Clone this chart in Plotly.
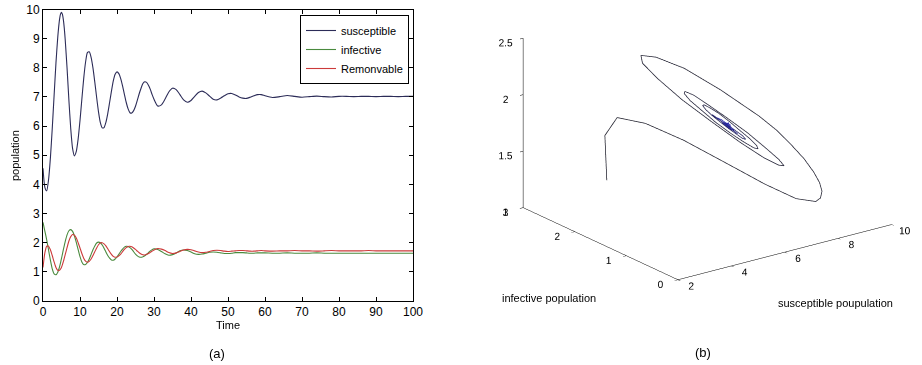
import plotly.graph_objects as go

# sampling times
time = sorted([i * 0.5 for i in range(61)] + [4.25, 4.75, 5.25, 5.75]) \
    + list(range(31, 61)) + list(range(62, 101, 2))

susceptible = [
    4.55, 3.9, 3.78, 4.16, 4.91, 5.92, 7.05, 8.16, 9.07, 9.42, 9.69, 9.85,
    9.9, 9.83, 9.65, 9.36, 8.97, 7.99, 6.89, 5.91, 5.23, 4.98, 5.13, 5.56,
    6.19, 6.92, 7.63, 8.19, 8.52, 8.55, 8.36, 8.0, 7.51, 6.98,
    6.49, 6.12, 5.94, 5.95, 6.13, 6.43, 6.81, 7.2, 7.55, 7.78,
    7.86, 7.8, 7.63, 7.38, 7.09, 6.81, 6.59, 6.46, 6.45, 6.53,
    6.68, 6.89, 7.11, 7.3, 7.46, 7.52, 7.5, 7.4, 7.26, 7.08,
    6.92,
    6.69, 6.73, 6.93, 7.17, 7.3, 7.25, 7.08, 6.9, 6.82, 6.88,
    7.02, 7.15, 7.2, 7.14, 7.03, 6.92, 6.9, 6.96, 7.04, 7.11,
    7.12, 7.07, 7.0, 6.96, 6.95, 6.99, 7.04, 7.08, 7.08, 7.04,
    6.98, 7.01, 7.05, 7.02, 6.99, 7.01, 7.03, 7.01, 7.0, 7.02,
    7.02, 7.01, 7.02, 7.02, 7.01, 7.02, 7.02, 7.01, 7.02, 7.02,
]

infective = [
    2.7, 2.4, 2.1, 1.75, 1.4, 1.1, 0.93, 0.9, 0.99, 1.08, 1.19, 1.32,
    1.46, 1.61, 1.76, 1.9, 2.04, 2.27, 2.41, 2.45, 2.39, 2.23, 2.01, 1.76,
    1.52, 1.34, 1.25, 1.25, 1.32, 1.44, 1.6, 1.76, 1.89, 1.99,
    2.02, 2.0, 1.92, 1.81, 1.68, 1.56, 1.47, 1.41, 1.4, 1.44,
    1.51, 1.6, 1.7, 1.78, 1.85, 1.88, 1.87, 1.83, 1.77, 1.69,
    1.61, 1.55, 1.51, 1.5, 1.52, 1.55, 1.6, 1.66, 1.72, 1.76,
    1.79,
    1.77, 1.7, 1.62, 1.57, 1.59, 1.65, 1.72, 1.75, 1.73, 1.68,
    1.62, 1.6, 1.61, 1.64, 1.67, 1.68, 1.67, 1.65, 1.63, 1.63,
    1.64, 1.66, 1.66, 1.66, 1.65, 1.64, 1.64, 1.65, 1.65, 1.65,
    1.64, 1.64, 1.65, 1.64, 1.64, 1.64, 1.65, 1.64, 1.64, 1.64,
    1.64, 1.64, 1.64, 1.64, 1.64, 1.64, 1.64, 1.64, 1.64, 1.64,
]

removable = [
    1.15, 1.65, 1.88, 1.88, 1.76, 1.56, 1.34, 1.15, 1.05, 1.04, 1.06, 1.1,
    1.16, 1.25, 1.35, 1.47, 1.59, 1.83, 2.06, 2.21, 2.28, 2.26, 2.16, 2.0,
    1.82, 1.63, 1.47, 1.37, 1.33, 1.36, 1.44, 1.56, 1.69, 1.82,
    1.93, 1.99, 2.0, 1.96, 1.89, 1.79, 1.69, 1.6, 1.53, 1.5,
    1.51, 1.55, 1.61, 1.69, 1.77, 1.83, 1.87, 1.88, 1.86, 1.82,
    1.77, 1.71, 1.655, 1.61, 1.585, 1.58, 1.6, 1.63, 1.67, 1.71,
    1.75,
    1.8, 1.78, 1.73, 1.66, 1.63, 1.65, 1.7, 1.75, 1.77, 1.76,
    1.72, 1.68, 1.66, 1.67, 1.7, 1.73, 1.74, 1.73, 1.71, 1.7,
    1.71, 1.72, 1.73, 1.73, 1.72, 1.71, 1.71, 1.72, 1.73, 1.72,
    1.71, 1.72, 1.72, 1.73, 1.72, 1.72, 1.71, 1.72, 1.73, 1.72,
    1.72, 1.72, 1.72, 1.73, 1.72, 1.72, 1.72, 1.72, 1.72, 1.72,
]

series_names = ["susceptible", "infective", "Remonvable"]
series_colors = ["#2c2c58", "#4a8a3e", "#cc3a3a"]

x_ticks = list(range(0, 101, 10))
y_ticks = list(range(0, 11))
s_ticks = [2, 4, 6, 8, 10]
i_ticks = [0, 1, 2, 3]
r_ticks = [1, 1.5, 2, 2.5]

FONT = "Liberation Sans, Arial, sans-serif"

fig = go.Figure()
for name, vals, col in zip(series_names, [susceptible, infective, removable], series_colors):
    fig.add_trace(go.Scatter(
        x=time, y=vals, name=name, mode="lines",
        line=dict(color=col, width=1.1, shape="spline", smoothing=0.6),
        xaxis="x", yaxis="y",
    ))

fig.add_trace(go.Scatter3d(
    x=susceptible, y=infective, z=removable, mode="lines", showlegend=False,
    line=dict(color=time, colorscale=[[0, "#1e1e2a"], [0.22, "#24243e"],
                                      [0.4, "#2c2ca8"], [1, "#3030d0"]], width=1.5),
    scene="scene",
))

ax3 = dict(showgrid=False, showbackground=False, showline=True, linecolor="black",
           linewidth=1, ticks="outside", ticklen=4, tickcolor="black", tickangle=0,
           zeroline=False, showspikes=False, title=dict(text=""),
           tickfont=dict(family=FONT, size=11, color="black"))

# camera: view direction (unit) and screen shift
view = (-0.56, -0.752, 0.347)
cen = (-0.0575, -0.078, -0.263)

def ann(text, x, y, size=11, angle=0):
    return dict(text=text, x=x / 922, y=1 - y / 365, xref="paper", yref="paper",
                xanchor="center", yanchor="middle", showarrow=False,
                textangle=angle, font=dict(size=size))

fig.update_layout(
    width=922, height=365,
    margin=dict(l=0, r=0, t=0, b=0),
    paper_bgcolor="white", plot_bgcolor="white",
    font=dict(family=FONT, size=11, color="black"),
    xaxis=dict(domain=[43 / 922, 413 / 922], range=[0, 100], tickvals=x_ticks,
               showline=True, mirror="ticks", ticks="inside", ticklen=4,
               linecolor="black", tickcolor="black", showgrid=False, zeroline=False,
               title=dict(text="Time", standoff=2, font=dict(size=11)),
               automargin=False, tickfont=dict(size=12)),
    yaxis=dict(domain=[1 - 301 / 365, 1 - 9.5 / 365], range=[0, 10], tickvals=y_ticks,
               showline=True, mirror="ticks", ticks="inside", ticklen=4,
               linecolor="black", tickcolor="black", showgrid=False, zeroline=False,
               automargin=False, tickfont=dict(size=12)),
    legend=dict(x=409 / 922, y=1 - 15 / 365, xanchor="right", yanchor="top",
                bordercolor="black", borderwidth=1, bgcolor="white",
                font=dict(size=11), tracegroupgap=0, itemwidth=30),
    scene=dict(
        domain=dict(x=[0.535, 1.0], y=[0.0, 1.0]),
        aspectmode="manual", aspectratio=dict(x=1.46, y=1.42, z=0.99),
        camera=dict(eye=dict(x=cen[0] + 1.5 * view[0], y=cen[1] + 1.5 * view[1],
                             z=cen[2] + 1.5 * view[2]),
                    up=dict(x=0, y=0, z=1),
                    center=dict(x=cen[0], y=cen[1], z=cen[2]),
                    projection=dict(type="orthographic")),
        xaxis=dict(ax3, range=[2, 10], tickvals=s_ticks),
        yaxis=dict(ax3, range=[0, 3], tickvals=i_ticks),
        zaxis=dict(ax3, range=[1, 2.5], tickvals=r_ticks),
        bgcolor="white",
    ),
    annotations=[
        ann("population", 15, 155, angle=-90),
        ann("(a)", 217, 353, size=13),
        ann("(b)", 703, 352, size=13),
        ann("infective population", 549, 298),
        ann("susceptible poupulation", 835, 303),
    ],
)

fig.write_html("out.html", config={"displayModeBar": False},
               post_script="document.body.style.margin='0px';")
